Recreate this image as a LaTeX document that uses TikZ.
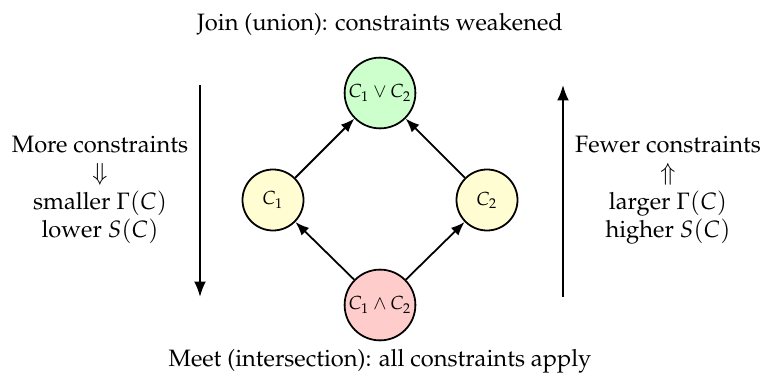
\documentclass[tikz,border=0pt]{standalone}
\usepackage[T1]{fontenc}
\usepackage{mathpazo}
\usetikzlibrary{arrows.meta}
\begin{document}
\begin{tikzpicture}[x=0.422pt,y=-0.422pt,
  lat/.style={circle,draw,line width=0.75pt,inner sep=1pt,font=\footnotesize},
  conn/.style={line width=0.75pt,-{Latex[length=5.8pt,width=4.5pt]}},
  side/.style={line width=0.8pt,-{Latex[length=6.5pt,width=5pt]}},
  lbl/.style={align=center,inner sep=0pt}]
\useasboundingbox (0,0) rectangle (764,385);
\node[lat,fill=green!20,minimum size=70*0.422pt] (top) at (380,93) {$C_1\vee C_2$};
\node[lat,fill=yellow!18,minimum size=61*0.422pt] (c1) at (273,200) {$C_1$};
\node[lat,fill=yellow!18,minimum size=61*0.422pt] (c2) at (487,200) {$C_2$};
\node[lat,fill=red!20,minimum size=70*0.422pt] (bot) at (380,305) {$C_1\wedge C_2$};
\draw[conn] (c1) -- (top);
\draw[conn] (c2) -- (top);
\draw[conn] (bot) -- (c1);
\draw[conn] (bot) -- (c2);
\node[lbl] (title) at (380,24) {Join (union): constraints weakened};
\node[lbl] (meet) at (380,361) {Meet (intersection): all constraints apply};
\node[lbl] (left) at (100,190) {More constraints\\$\Downarrow$\\smaller $\Gamma(C)$\\lower $S(C)$};
\node[lbl] (right) at (668,190) {Fewer constraints\\$\Uparrow$\\larger $\Gamma(C)$\\higher $S(C)$};
\coordinate (la) at (200,85);
\coordinate (lb) at (200,297);
\coordinate (ra) at (563,297);
\coordinate (rb) at (563,85);
\draw[side] (la) -- (lb);
\draw[side] (ra) -- (rb);
\end{tikzpicture}
\end{document}
